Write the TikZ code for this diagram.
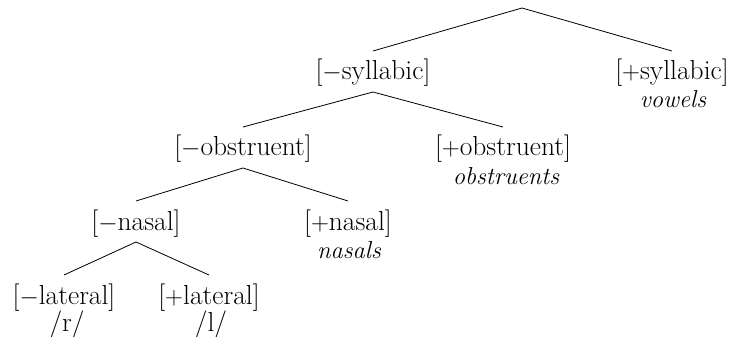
\documentclass[tikz,border=0pt]{standalone}
\begin{document}
\begin{tikzpicture}[x=1pt,y=-1pt,
  feat/.style={inner sep=0pt, anchor=base, font=\fontsize{27.5}{29}\selectfont},
  cls/.style={inner sep=0pt, anchor=base, font=\fontsize{24.5}{29}\selectfont\itshape},
  branch/.style={line width=0.8pt}]
\useasboundingbox (0,0) rectangle (732,337);
% root of the tree
\coordinate (root) at (522,8);
% first split
\node[feat] (nsyl) at (373,80) {[$-$syllabic]};
\node[feat] (psyl) at (672,80) {[$+$syllabic]};
\node[cls]  (vow)  at (673,108) {vowels};
% second split
\node[feat] (nobs) at (243,156) {[$-$obstruent]};
\node[feat] (pobs) at (503,156) {[$+$obstruent]};
\node[cls]  (obs)  at (506,184) {obstruents};
% third split
\node[feat] (nnas) at (136,230) {[$-$nasal]};
\node[feat] (pnas) at (348,230) {[$+$nasal]};
\node[cls]  (nas)  at (349,258) {nasals};
% fourth split
\node[feat] (nlat) at (64,304) {[$-$lateral]};
\node[feat] (plat) at (209,304) {[$+$lateral]};
\node[feat] (r)    at (67,331) {/r/};
\node[feat] (l)    at (211,331) {/l/};
% branches: from 12pt below a parent's baseline to 29pt above a child's
\foreach \p/\c in {nsyl/nobs, nsyl/pobs, nobs/nnas, nobs/pnas, nnas/nlat, nnas/plat}
  \draw[branch] ([yshift=-12pt]\p.base) -- ([yshift=29pt]\c.base);
\draw[branch] (root) -- ([yshift=29pt]nsyl.base);
\draw[branch] (root) -- ([yshift=29pt]psyl.base);
\end{tikzpicture}
\end{document}
